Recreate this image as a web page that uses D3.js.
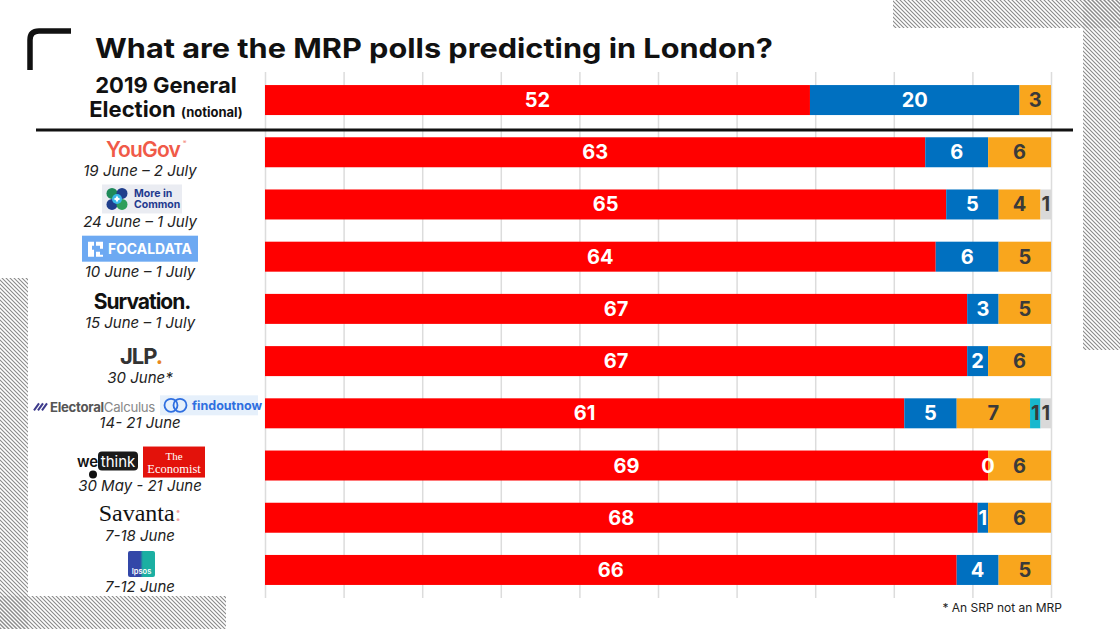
<!DOCTYPE html>
<html><head><meta charset="utf-8">
<script src="https://cdn.jsdelivr.net/npm/d3@7"></script>
<style>
html,body{margin:0;padding:0;background:#fff;}
svg{display:block;font-family:"Inter","Open Sans",sans-serif;}
</style></head>
<body><svg id="c" width="1120" height="629"></svg>
<script>
// ---------- data ----------
const rows = ["ge2019","YouGov","More in Common","Focaldata","Survation","JLP","Electoral Calculus / Find Out Now","WeThink / The Economist","Savanta","Ipsos"];
const dates = ["","19 June – 2 July","24 June – 1 July","10 June – 1 July","15 June – 1 July","30 June*","14- 21 June","30 May - 21 June","7-18 June","7-12 June"];
const labour       = [52,63,65,64,67,67,61,69,68,66];
const conservative = [20, 6, 5, 6, 3, 2, 5, 0, 1, 4];
const libdem       = [ 3, 6, 4, 5, 5, 6, 7, 6, 6, 5];
const green        = [ 0, 0, 0, 0, 0, 0, 1, 0, 0, 0];
const other        = [ 0, 0, 1, 0, 0, 0, 1, 0, 0, 0];
const seriesNames = ["labour","conservative","libdem","green","other"];
const gridTicks = [0,7.5,15,22.5,30,37.5,45,52.5,60,67.5,75];
const titleText = "What are the MRP polls predicting in London?";
const footnote = "* An SRP not an MRP";

const colors = {labour:"#FF0000",conservative:"#0070C0",libdem:"#F9A61D",green:"#17B8CE",other:"#D9D9D9"};
const labelColors = {labour:"#fff",conservative:"#fff",libdem:"#3a3a3a",green:"#3a3a3a",other:"#3a3a3a"};

const table = rows.map((r,i)=>({row:r,labour:labour[i],conservative:conservative[i],libdem:libdem[i],green:green[i],other:other[i]}));
const stack = d3.stack().keys(seriesNames)(table);

const svg = d3.select("#c");
const serif = "'Liberation Serif','DejaVu Serif',serif";

// ---------- hatched background ----------
const defs = svg.append("defs");
const pat = defs.append("pattern").attr("id","hatch").attr("patternUnits","userSpaceOnUse").attr("width",4).attr("height",4);
pat.append("path").attr("d","M-1,-1 L5,5 M-1,3 L1,5 M3,-1 L5,1").attr("stroke","#8a8a8a").attr("stroke-width",1.1);
[[893,0,227,28],[1083,0,37,350],[0,278,28,351],[0,596,226,33]].forEach(r=>{
  svg.append("rect").attr("x",r[0]).attr("y",r[1]).attr("width",r[2]).attr("height",r[3]).attr("fill","url(#hatch)");
});

// corner bracket
svg.append("path").attr("d","M30,70 L30,40 Q30,31 39,31 L71,31").attr("fill","none").attr("stroke","#111").attr("stroke-width",5.5);

// title
svg.append("text").attr("x",95).attr("y",58).attr("font-size",27).attr("font-weight",700).attr("fill","#111")
  .attr("textLength",678).attr("lengthAdjust","spacingAndGlyphs").text(titleText);

// ---------- scales ----------
const x = d3.scaleLinear().domain([0,75]).range([265,1051]);
const y = d3.scaleBand().domain(rows).range([72,598]).paddingInner(0.4255).paddingOuter(0.25);

// gridlines via axis
const gAxis = svg.append("g").attr("transform","translate(0,598)")
  .call(d3.axisBottom(x).tickValues(gridTicks).tickSize(-(598-72)).tickFormat(""));
gAxis.select(".domain").remove();
gAxis.selectAll(".tick line").attr("stroke","#dcdcdc").attr("stroke-width",1.5);

// bars
const layers = svg.append("g").selectAll("g").data(stack).join("g").attr("fill",d=>colors[d.key]);
layers.selectAll("rect").data(d=>d.map(v=>({v,key:d.key}))).join("rect")
  .attr("x",d=>x(d.v[0])).attr("width",d=>x(d.v[1])-x(d.v[0]))
  .attr("y",d=>y(d.v.data.row)).attr("height",y.bandwidth());

// value labels
const labs = [];
stack.forEach(s=>s.forEach(v=>{
  const val = v[1]-v[0];
  const show = val>0 || (s.key==="conservative");
  if(show) labs.push({key:s.key,val,cx:(x(v[0])+x(v[1]))/2,row:v.data.row});
}));
svg.append("g").selectAll("text").data(labs).join("text")
  .attr("x",d=>d.cx).attr("y",d=>y(d.row)+y.bandwidth()/2+7)
  .attr("text-anchor","middle").attr("font-size",20).attr("font-weight",700)
  .attr("fill",d=>d.key==="conservative"&&d.val===0?"#fff":labelColors[d.key])
  .text(d=>d.val);

// separator line
svg.append("line").attr("x1",36).attr("x2",1073).attr("y1",130).attr("y2",130).attr("stroke","#111").attr("stroke-width",3);

// ---------- left labels ----------
const cy = r => y(r)+y.bandwidth()/2;
// GE
svg.append("text").attr("x",166).attr("y",93).attr("text-anchor","middle").attr("font-size",22).attr("font-weight",700).attr("fill","#111").text("2019 General");
const ge2 = svg.append("text").attr("x",166).attr("y",117).attr("text-anchor","middle").attr("font-weight",700).attr("fill","#111");
ge2.append("tspan").attr("font-size",22).text("Election ");
ge2.append("tspan").attr("font-size",13).text("(notional)");

// dates
const dateDy = [0,19,18,15,14,17,10,20,18,17];
svg.append("g").selectAll("text").data(rows.slice(1)).join("text")
  .attr("x",140).attr("y",(r,i)=>cy(r)+dateDy[i+1]+5)
  .attr("text-anchor","middle").attr("font-size",15).attr("font-style","italic").attr("fill","#222")
  .text((r,i)=>dates[i+1]);

// logos
let c;
// YouGov
c = cy("YouGov");
svg.append("text").attr("x",143).attr("y",c+5).attr("text-anchor","middle").attr("font-size",21).attr("font-weight",600).attr("letter-spacing",-0.8).attr("fill","#F05A48").text("YouGov");
svg.append("text").attr("x",183).attr("y",c-8).attr("font-size",5).attr("fill","#F05A48").text("®");
// More in Common
c = cy("More in Common");
svg.append("rect").attr("x",102).attr("y",c-20).attr("width",80).attr("height",29).attr("fill","#EAECF2");
[[112,-11,"#1F8A5A"],[122,-11,"#1F3E8C"],[112,0,"#1F3E8C"],[122,0,"#2E9E5B"]].forEach(p=>{
  svg.append("circle").attr("cx",p[0]).attr("cy",c+p[1]).attr("r",5.5).attr("fill",p[2]);
});
svg.append("circle").attr("cx",117).attr("cy",c-5.5).attr("r",5).attr("fill","#39B7E8");
svg.append("path").attr("d",`M117,${c-9} L118.2,${c-6.7} L120.5,${c-5.5} L118.2,${c-4.3} L117,${c-2} L115.8,${c-4.3} L113.5,${c-5.5} L115.8,${c-6.7}Z`).attr("fill","#fff");
svg.append("text").attr("x",134).attr("y",c-7).attr("font-size",10.5).attr("font-weight",700).attr("fill","#1F3A8F").text("More in");
svg.append("text").attr("x",134).attr("y",c+4).attr("font-size",10.5).attr("font-weight",700).attr("fill","#1F3A8F").text("Common");
// Focaldata
c = cy("Focaldata");
svg.append("rect").attr("x",82).attr("y",c-21).attr("width",116).attr("height",26).attr("fill","#6DA9F2");
svg.append("path").attr("d",`M88,${c-15} h6 v4 h-2 v4 h2 v7 h-6 Z M96,${c-15} h7 v7 h-3 v-3 h-4 Z M96,${c-5} h4 v3 h3 v2 h-7 Z`).attr("fill","#fff");
svg.append("text").attr("x",108).attr("y",c-2.5).attr("font-size",14).attr("font-weight",700).attr("fill","#fff")
  .attr("textLength",84).attr("lengthAdjust","spacingAndGlyphs").text("FOCALDATA");
// Survation
c = cy("Survation");
svg.append("text").attr("x",142).attr("y",c).attr("text-anchor","middle").attr("font-size",21).attr("font-weight",700).attr("letter-spacing",-1).attr("fill","#111").text("Survation.");
// JLP
c = cy("JLP");
const jt = svg.append("text").attr("x",141).attr("y",c+3).attr("text-anchor","middle").attr("font-size",22).attr("font-weight",700).attr("letter-spacing",-1).attr("fill","#333");
jt.append("tspan").text("JLP");
jt.append("tspan").attr("fill","#E8871E").text(".");
// Electoral Calculus / findoutnow
c = cy("Electoral Calculus / Find Out Now");
[0,4,8].forEach(o=>svg.append("line").attr("x1",34+o).attr("y1",c-3).attr("x2",39+o).attr("y2",c-10).attr("stroke","#3D3A8C").attr("stroke-width",2));
const et = svg.append("text").attr("x",50).attr("y",c-1.5).attr("font-size",13).attr("letter-spacing",-0.3).attr("fill","#555")
  .attr("textLength",105).attr("lengthAdjust","spacingAndGlyphs");
et.append("tspan").attr("font-weight",700).text("Electoral");
et.append("tspan").attr("fill","#888").text("Calculus");
svg.append("rect").attr("x",160).attr("y",c-18).attr("width",98).attr("height",20).attr("fill","#E6F0FB");
svg.append("circle").attr("cx",171).attr("cy",c-8).attr("r",6.5).attr("fill","none").attr("stroke","#2F6FE0").attr("stroke-width",1.8);
svg.append("circle").attr("cx",180).attr("cy",c-8).attr("r",6.5).attr("fill","none").attr("stroke","#2F6FE0").attr("stroke-width",1.8);
svg.append("text").attr("x",192).attr("y",c-3.5).attr("font-size",12.5).attr("font-weight",700).attr("fill","#2F6FE0").text("findoutnow");
// WeThink / Economist
c = cy("WeThink / The Economist");
svg.append("text").attr("x",77).attr("y",c+1).attr("font-size",15).attr("font-weight",600).attr("fill","#111").text("we");
svg.append("rect").attr("x",98).attr("y",c-14).attr("width",40).attr("height",19).attr("rx",4).attr("fill","#1a1a1a");
svg.append("text").attr("x",118).attr("y",c+1).attr("text-anchor","middle").attr("font-size",15).attr("fill","#fff").text("think");
svg.append("circle").attr("cx",93).attr("cy",c+9).attr("r",4).attr("fill","#111");
svg.append("rect").attr("x",143).attr("y",c-19).attr("width",62).attr("height",31).attr("fill","#E3120B");
svg.append("text").attr("x",174).attr("y",c-6).attr("text-anchor","middle").attr("font-size",11).style("font-family",serif).attr("fill","#fff").text("The");
svg.append("text").attr("x",174).attr("y",c+7).attr("text-anchor","middle").attr("font-size",12.5).style("font-family",serif).attr("fill","#fff").text("Economist");
// Savanta
c = cy("Savanta");
const st = svg.append("text").attr("x",140).attr("y",c+3).attr("text-anchor","middle").attr("font-size",24).style("font-family",serif).attr("fill","#111");
st.append("tspan").text("Savanta");
st.append("tspan").attr("fill","#F2A3A3").text(":");
// Ipsos
c = cy("Ipsos");
const ig = defs.append("linearGradient").attr("id","ipg").attr("x1",0).attr("x2",1);
ig.append("stop").attr("offset","0.45").attr("stop-color","#3347A8");
ig.append("stop").attr("offset","0.55").attr("stop-color","#1BAFA2");
svg.append("rect").attr("x",128).attr("y",c-19).attr("width",27).attr("height",26).attr("rx",2).attr("fill","url(#ipg)");
svg.append("text").attr("x",141.5).attr("y",c+4).attr("text-anchor","middle").attr("font-size",7.5).attr("font-weight",600).attr("fill","#fff").text("Ipsos");

// footnote
svg.append("text").attr("x",1062).attr("y",612).attr("text-anchor","end").attr("font-size",12).attr("fill","#222").text(footnote);
</script></body></html>
